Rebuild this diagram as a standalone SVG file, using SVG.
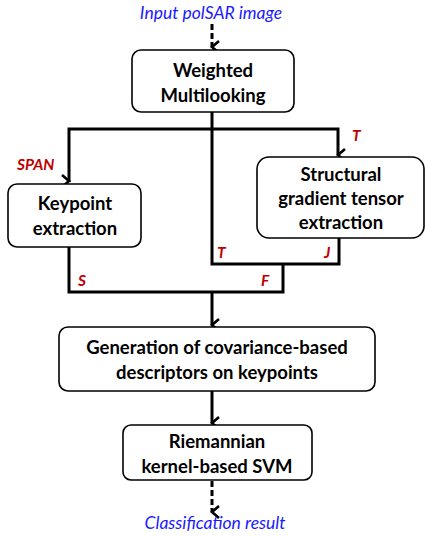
<svg xmlns="http://www.w3.org/2000/svg" width="425" height="536" viewBox="0 0 425 536">
<style>
.box{fill:#fff;stroke:#000;stroke-width:1.6}
.t{font-family:Lato,"Open Sans",sans-serif;font-weight:bold;font-size:18.5px;fill:#000;text-anchor:middle}
.io{font-family:Lato,"Open Sans",sans-serif;font-style:italic;font-size:17.5px;fill:#1a1aff;text-anchor:middle}
.lb{font-family:Lato,"Open Sans",sans-serif;font-style:italic;font-weight:bold;font-size:15.5px;fill:#c00000}
.ln{fill:none;stroke:#000;stroke-width:3}
.ds{fill:none;stroke:#000;stroke-width:3;stroke-dasharray:6 3}
</style>
<defs>
<marker id="ah" markerUnits="userSpaceOnUse" markerWidth="16" markerHeight="12" refX="8" refY="10" orient="auto-start-reverse" viewBox="0 0 16 12">
<path d="M2,3 L8,10 L14,3" fill="none" stroke="#000" stroke-width="2.6"/>
</marker>
</defs>
<g id="connectors">
<path class="ds" d="M212,24 V47" marker-end="url(#ah)"/>
<path class="ln" d="M212,112 V264 H339 V238"/>
<path class="ln" d="M69,182 V129 H338 V155" marker-end="url(#ah)"/>
<path class="ln" d="M69,182 V181" marker-end="url(#ah)"/>
<path class="ln" d="M69,247 V292 H283 V264"/>
<path class="ln" d="M212,292 V325" marker-end="url(#ah)"/>
<path class="ln" d="M212,391 V423" marker-end="url(#ah)"/>
<path class="ds" d="M212,481 V512" marker-end="url(#ah)"/>
</g>
<g id="labels">
<text class="lb" x="352" y="141">T</text>
<text class="lb" x="17" y="170">SPAN</text>
<text class="lb" x="217" y="258">T</text>
<text class="lb" x="324" y="258">J</text>
<text class="lb" x="78" y="286">S</text>
<text class="lb" x="261" y="286">F</text>
</g>
<g id="input"><text class="io" x="211" y="19">Input polSAR image</text></g>
<g id="weighted">
<rect class="box" x="132" y="50" width="162" height="62" rx="9"/>
<text class="t" x="213" y="77">Weighted</text>
<text class="t" x="213" y="102">Multilooking</text>
</g>
<g id="keypoint">
<rect class="box" x="8" y="184" width="133" height="63" rx="9"/>
<text class="t" x="75" y="210">Keypoint</text>
<text class="t" x="75" y="235">extraction</text>
</g>
<g id="structural">
<rect class="box" x="257" y="157" width="167" height="81" rx="12"/>
<text class="t" x="341" y="181">Structural</text>
<text class="t" x="341" y="205">gradient tensor</text>
<text class="t" x="341" y="229">extraction</text>
</g>
<g id="generation">
<rect class="box" x="59" y="327" width="316" height="64" rx="9"/>
<text class="t" x="217" y="354">Generation of covariance-based</text>
<text class="t" x="217" y="379">descriptors on keypoints</text>
</g>
<g id="svm">
<rect class="box" x="123" y="425" width="189" height="55" rx="8"/>
<text class="t" x="217" y="448">Riemannian</text>
<text class="t" x="217" y="473">kernel-based SVM</text>
</g>
<g id="output"><text class="io" x="215" y="529">Classification result</text></g>
</svg>
